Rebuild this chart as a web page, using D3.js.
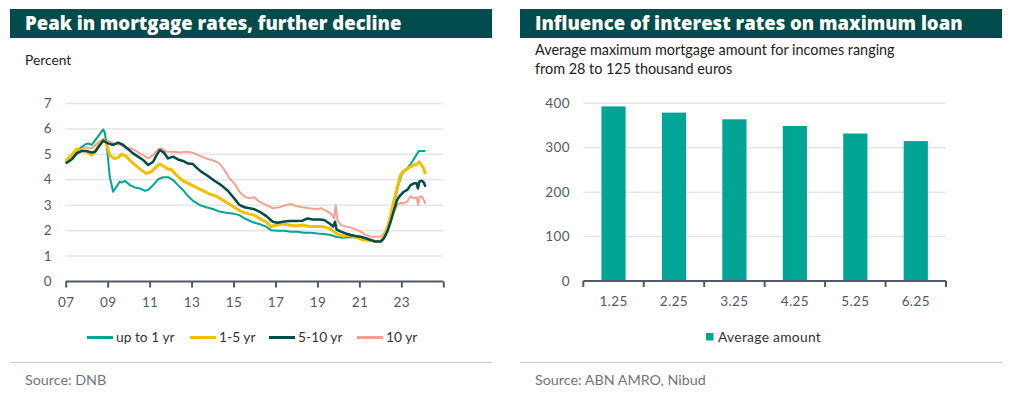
<!DOCTYPE html>
<html>
<head>
<meta charset="utf-8">
<script src="https://cdn.jsdelivr.net/npm/d3@7"></script>
<style>
  body { margin: 0; background: #fff; }
  svg { display: block; font-family: Lato, "Noto Sans", sans-serif; }
  .grid line { stroke: #e5e5e5; stroke-width: 1.5; }
  .tick-label { fill: #4e5a65; font-size: 13.5px; letter-spacing: 0.4px; }
</style>
</head>
<body>
<svg id="chart" width="1016" height="395"></svg>
<script>
// Mortgage rates by fixed-rate period, [decimal year, percent]
var upTo1yr = [
  [2007.0, 4.67], [2007.36, 4.84], [2007.68, 5.24], [2007.92, 5.39], [2008.08, 5.43],
  [2008.24, 5.37], [2008.47, 5.63], [2008.71, 5.89], [2008.79, 5.98], [2008.87, 5.83],
  [2008.98, 5.17], [2009.1, 4.12], [2009.26, 3.53], [2009.42, 3.73], [2009.58, 3.93],
  [2009.66, 3.89], [2009.82, 3.96], [2010.06, 3.79], [2010.29, 3.70], [2010.53, 3.66],
  [2010.77, 3.57], [2010.93, 3.60], [2011.17, 3.79], [2011.4, 4.02], [2011.64, 4.10],
  [2011.88, 4.10], [2012.12, 3.99], [2012.35, 3.79], [2012.59, 3.60], [2012.83, 3.36],
  [2013.07, 3.17], [2013.38, 3.01], [2013.7, 2.92], [2014.01, 2.85], [2014.33, 2.75],
  [2014.64, 2.70], [2015.04, 2.66], [2015.28, 2.61], [2015.52, 2.48], [2015.76, 2.39],
  [2016.0, 2.31], [2016.23, 2.26], [2016.55, 2.16], [2016.79, 2.02], [2017.1, 2.00],
  [2017.42, 2.00], [2017.74, 1.96], [2018.05, 1.96], [2018.37, 1.92], [2018.69, 1.92],
  [2019.0, 1.89], [2019.32, 1.87], [2019.64, 1.83], [2019.87, 1.76], [2020.19, 1.72],
  [2020.51, 1.74], [2020.82, 1.74], [2021.14, 1.66], [2021.46, 1.61], [2021.78, 1.57],
  [2022.06, 1.57], [2022.25, 1.83], [2022.41, 2.29], [2022.57, 2.81], [2022.73, 3.34],
  [2022.88, 3.86], [2023.04, 4.25], [2023.28, 4.45], [2023.52, 4.71], [2023.67, 4.91],
  [2023.83, 5.13], [2023.99, 5.13], [2024.15, 5.13]
];
var yr1to5 = [
  [2007.0, 4.75], [2007.28, 4.97], [2007.52, 5.20], [2007.76, 5.17], [2008.0, 5.10],
  [2008.24, 4.97], [2008.4, 5.10], [2008.63, 5.43], [2008.79, 5.59], [2008.92, 5.50],
  [2009.1, 4.97], [2009.3, 4.84], [2009.5, 4.87], [2009.66, 5.01], [2009.9, 4.91],
  [2010.13, 4.71], [2010.37, 4.54], [2010.61, 4.38], [2010.85, 4.25], [2011.09, 4.32],
  [2011.33, 4.52], [2011.49, 4.62], [2011.64, 4.54], [2011.88, 4.41], [2012.04, 4.41],
  [2012.27, 4.19], [2012.59, 3.96], [2012.91, 3.83], [2013.22, 3.70], [2013.54, 3.57],
  [2013.86, 3.44], [2014.17, 3.36], [2014.49, 3.20], [2014.81, 3.04], [2015.04, 2.92],
  [2015.28, 2.79], [2015.52, 2.71], [2015.76, 2.65], [2016.0, 2.61], [2016.23, 2.48],
  [2016.55, 2.35], [2016.79, 2.16], [2017.02, 2.22], [2017.34, 2.26], [2017.66, 2.22],
  [2017.97, 2.18], [2018.29, 2.22], [2018.61, 2.16], [2018.92, 2.16], [2019.24, 2.16],
  [2019.56, 2.09], [2019.8, 1.96], [2020.03, 1.83], [2020.27, 1.79], [2020.51, 1.83],
  [2020.74, 1.76], [2020.98, 1.70], [2021.22, 1.63], [2021.46, 1.61], [2021.78, 1.57],
  [2022.01, 1.57], [2022.17, 1.76], [2022.33, 2.09], [2022.49, 2.61], [2022.65, 3.20],
  [2022.81, 3.73], [2022.96, 4.19], [2023.12, 4.36], [2023.28, 4.42], [2023.44, 4.52],
  [2023.6, 4.58], [2023.75, 4.62], [2023.86, 4.71], [2023.96, 4.58], [2024.04, 4.49],
  [2024.15, 4.23]
];
var yr5to10 = [
  [2007.0, 4.64], [2007.28, 4.80], [2007.52, 5.04], [2007.76, 5.13], [2008.0, 5.13],
  [2008.24, 5.07], [2008.4, 5.10], [2008.63, 5.37], [2008.79, 5.54], [2009.02, 5.43],
  [2009.26, 5.37], [2009.5, 5.46], [2009.74, 5.37], [2009.98, 5.20], [2010.21, 5.04],
  [2010.45, 4.91], [2010.69, 4.78], [2010.93, 4.58], [2011.17, 4.71], [2011.33, 4.97],
  [2011.49, 5.17], [2011.68, 5.07], [2011.88, 4.84], [2012.12, 4.91], [2012.35, 4.80],
  [2012.59, 4.74], [2012.83, 4.64], [2013.07, 4.62], [2013.22, 4.49], [2013.46, 4.32],
  [2013.78, 4.15], [2014.09, 3.96], [2014.41, 3.79], [2014.73, 3.57], [2014.95, 3.35],
  [2015.1, 3.20], [2015.28, 3.01], [2015.52, 2.92], [2015.76, 2.88], [2016.0, 2.84],
  [2016.23, 2.75], [2016.55, 2.58], [2016.87, 2.35], [2017.1, 2.31], [2017.34, 2.35],
  [2017.66, 2.38], [2017.97, 2.38], [2018.29, 2.39], [2018.53, 2.48], [2018.77, 2.44],
  [2019.08, 2.44], [2019.32, 2.42], [2019.56, 2.29], [2019.75, 2.16], [2019.84, 2.35],
  [2019.91, 2.05], [2020.11, 1.96], [2020.35, 1.89], [2020.59, 1.83], [2020.82, 1.79],
  [2021.06, 1.76], [2021.3, 1.70], [2021.54, 1.63], [2021.78, 1.57], [2022.01, 1.57],
  [2022.17, 1.70], [2022.33, 1.96], [2022.49, 2.35], [2022.65, 2.81], [2022.81, 3.23],
  [2022.96, 3.40], [2023.12, 3.53], [2023.28, 3.60], [2023.44, 3.79], [2023.6, 3.86],
  [2023.73, 3.86], [2023.79, 3.66], [2023.86, 3.93], [2023.99, 3.96], [2024.07, 3.89],
  [2024.15, 3.73]
];
var yr10 = [
  [2007.0, 4.71], [2007.28, 4.91], [2007.52, 5.17], [2007.76, 5.27], [2008.0, 5.27],
  [2008.24, 5.24], [2008.47, 5.41], [2008.71, 5.56], [2008.87, 5.59], [2009.1, 5.50],
  [2009.34, 5.41], [2009.58, 5.39], [2009.82, 5.27], [2010.06, 5.24], [2010.29, 5.17],
  [2010.53, 5.04], [2010.77, 4.93], [2010.93, 4.84], [2011.17, 4.97], [2011.4, 5.20],
  [2011.56, 5.24], [2011.8, 5.10], [2012.12, 5.10], [2012.43, 5.07], [2012.75, 5.10],
  [2012.99, 5.07], [2013.22, 5.01], [2013.46, 4.91], [2013.7, 4.84], [2013.94, 4.78],
  [2014.17, 4.71], [2014.33, 4.64], [2014.57, 4.38], [2014.81, 4.05], [2015.04, 3.86],
  [2015.28, 3.53], [2015.52, 3.34], [2015.76, 3.27], [2016.0, 3.31], [2016.23, 3.14],
  [2016.55, 3.01], [2016.87, 2.88], [2017.18, 2.92], [2017.5, 3.01], [2017.74, 3.05],
  [2017.97, 2.97], [2018.29, 2.92], [2018.61, 2.88], [2018.92, 2.84], [2019.16, 2.88],
  [2019.4, 2.79], [2019.64, 2.68], [2019.8, 2.48], [2019.87, 3.01], [2019.95, 2.42],
  [2020.11, 2.22], [2020.35, 2.16], [2020.59, 2.12], [2020.82, 2.05], [2021.06, 1.96],
  [2021.3, 1.83], [2021.54, 1.76], [2021.78, 1.76], [2022.01, 1.76], [2022.17, 1.89],
  [2022.33, 2.16], [2022.49, 2.48], [2022.65, 2.75], [2022.81, 3.01], [2022.96, 3.10],
  [2023.12, 3.07], [2023.28, 3.14], [2023.44, 3.36], [2023.6, 3.27], [2023.73, 3.31],
  [2023.8, 3.01], [2023.88, 3.34], [2023.99, 3.34], [2024.07, 3.20], [2024.15, 3.05]
];
var seriesNames = ['up to 1 yr', '1-5 yr', '5-10 yr', '10 yr'];
var seriesColors = ['#00a596', '#f3c000', '#004c4c', '#f4a390'];
var seriesWidths = [2, 3, 2.5, 2];
var rateTicks = [0, 1, 2, 3, 4, 5, 6, 7];
var yearTicks = [2007, 2009, 2011, 2013, 2015, 2017, 2019, 2021, 2023];
var yearLabels = ['07', '09', '11', '13', '15', '17', '19', '21', '23'];

// Average maximum mortgage (thousand euros) by interest rate
var interestRates = ['1.25', '2.25', '3.25', '4.25', '5.25', '6.25'];
var avgAmount = [393, 379, 364, 349, 332, 315];
var amountTicks = [0, 100, 200, 300, 400];

var svg = d3.select('#chart');
var darkGreen = '#004c4c';
var axisColor = '#4e5a65';

/**
 * Draws a panel title bar.
 */
function drawHeader(x0, x1, title) {
  svg.append('rect')
    .attr('x', x0).attr('y', 9)
    .attr('width', x1 - x0).attr('height', 29)
    .attr('fill', darkGreen);
  svg.append('text')
    .attr('x', x0 + 15).attr('y', 30)
    .attr('fill', '#fff')
    .attr('font-family', '"Open Sans", sans-serif')
    .attr('font-size', 18.5)
    .attr('font-weight', 800)
    .text(title);
}

/**
 * Draws the footer separator and source note.
 */
function drawFooter(x0, x1, source) {
  svg.append('line')
    .attr('x1', x0).attr('x2', x1)
    .attr('y1', 362.5).attr('y2', 362.5)
    .attr('stroke', '#c8c8c8').attr('stroke-width', 1);
  svg.append('text')
    .attr('x', x0 + 15).attr('y', 385)
    .attr('fill', '#6b7680')
    .attr('font-size', 14.3)
    .text(source);
}

// ---------- left panel: line chart ----------
drawHeader(10, 492, 'Peak in mortgage rates, further decline');
svg.append('text')
  .attr('x', 25).attr('y', 65)
  .attr('fill', '#222').attr('font-size', 13.8)
  .text('Percent');

var x = d3.scaleLinear().domain([2007, 2025]).range([65.7, 443.3]);
var y = d3.scaleLinear().domain([0, 7]).range([281.5, 103.5]);

var leftGrid = svg.append('g').attr('class', 'grid');
leftGrid.selectAll('line')
  .data(rateTicks.filter(function(d) { return d > 0; }))
  .enter().append('line')
  .attr('x1', x.range()[0]).attr('x2', x.range()[1])
  .attr('y1', y).attr('y2', y);
svg.append('g').selectAll('text')
  .data(rateTicks)
  .enter().append('text')
  .attr('class', 'tick-label')
  .attr('x', 52).attr('y', function(d) { return y(d) + 4.5; })
  .attr('text-anchor', 'end')
  .text(function(d) { return d; });

var line = d3.line()
  .x(function(d) { return x(d[0]); })
  .y(function(d) { return y(d[1]); })
  .curve(d3.curveLinear);
var allSeries = [upTo1yr, yr1to5, yr5to10, yr10];
// draw back to front so the salmon line sits under the others, as in the source
[3, 0, 1, 2].forEach(function(i) {
  svg.append('path')
    .datum(allSeries[i])
    .attr('d', line)
    .attr('fill', 'none')
    .attr('stroke', seriesColors[i])
    .attr('stroke-width', seriesWidths[i])
    .attr('stroke-linejoin', 'round');
});

var xAxis = d3.axisBottom(x)
  .tickValues(yearTicks.concat([2025]))
  .tickSize(6)
  .tickFormat(function(d) {
    var i = yearTicks.indexOf(d);
    return i < 0 ? '' : yearLabels[i];
  });
var xAxisG = svg.append('g')
  .attr('transform', 'translate(0,281.5)')
  .call(xAxis);
xAxisG.select('.domain').attr('stroke', axisColor).attr('stroke-width', 2)
  .attr('d', 'M' + x.range()[0] + ',0H' + x.range()[1]);
xAxisG.selectAll('.tick line').attr('stroke', axisColor).attr('stroke-width', 2);
xAxisG.selectAll('.tick text')
  .attr('class', 'tick-label').attr('dy', null).attr('y', 25)
  .style('font-family', null).style('font-size', null);
xAxisG.attr('font-family', null).attr('font-size', null);

var legendX = [87, 190, 269, 357];
var legend = svg.append('g');
seriesNames.forEach(function(name, i) {
  legend.append('line')
    .attr('x1', legendX[i]).attr('x2', legendX[i] + 26)
    .attr('y1', 337.5).attr('y2', 337.5)
    .attr('stroke', seriesColors[i]).attr('stroke-width', 3);
  legend.append('text')
    .attr('x', legendX[i] + 29).attr('y', 342)
    .attr('fill', '#333').attr('font-size', 13.8)
    .text(name);
});

drawFooter(10, 492, 'Source: DNB');

// ---------- right panel: bar chart ----------
drawHeader(520, 1002, 'Influence of interest rates on maximum loan');
svg.append('text')
  .attr('x', 535).attr('y', 55)
  .attr('fill', '#222').attr('font-size', 14.4)
  .text('Average maximum mortgage amount for incomes ranging');
svg.append('text')
  .attr('x', 535).attr('y', 74)
  .attr('fill', '#222').attr('font-size', 14.4)
  .text('from 28 to 125 thousand euros');

var xb = d3.scaleBand().domain(interestRates).range([583.3, 946]).padding(0);
var yb = d3.scaleLinear().domain([0, 400]).range([281, 103.3]);

var rightGrid = svg.append('g').attr('class', 'grid');
rightGrid.selectAll('line')
  .data(amountTicks.filter(function(d) { return d > 0; }))
  .enter().append('line')
  .attr('x1', xb.range()[0]).attr('x2', xb.range()[1])
  .attr('y1', yb).attr('y2', yb);
svg.append('g').selectAll('text')
  .data(amountTicks)
  .enter().append('text')
  .attr('class', 'tick-label')
  .attr('x', 570).attr('y', function(d) { return yb(d) + 4.5; })
  .attr('text-anchor', 'end')
  .text(function(d) { return d; });

var barW = xb.bandwidth() * 0.4;
svg.append('g').selectAll('rect')
  .data(avgAmount)
  .enter().append('rect')
  .attr('x', function(d, i) {
    return xb(interestRates[i]) + (xb.bandwidth() - barW) / 2;
  })
  .attr('y', function(d) { return yb(d); })
  .attr('width', barW)
  .attr('height', function(d) { return yb(0) - yb(d); })
  .attr('fill', '#00a596');

var bAxis = svg.append('g').attr('transform', 'translate(0,281)');
bAxis.append('line')
  .attr('x1', xb.range()[0]).attr('x2', xb.range()[1])
  .attr('stroke', axisColor).attr('stroke-width', 2);
bAxis.selectAll('line.tk')
  .data(interestRates.map(function(d) { return xb(d); }).concat([xb.range()[1]]))
  .enter().append('line')
  .attr('class', 'tk')
  .attr('x1', function(d) { return d; }).attr('x2', function(d) { return d; })
  .attr('y1', 0).attr('y2', 6)
  .attr('stroke', axisColor).attr('stroke-width', 2);
bAxis.selectAll('text')
  .data(interestRates)
  .enter().append('text')
  .attr('class', 'tick-label')
  .attr('x', function(d) { return xb(d) + xb.bandwidth() / 2; })
  .attr('y', 25)
  .attr('text-anchor', 'middle')
  .text(function(d) { return d; });

svg.append('rect')
  .attr('x', 706).attr('y', 333)
  .attr('width', 7.5).attr('height', 7.5)
  .attr('fill', '#00a596');
svg.append('text')
  .attr('x', 718).attr('y', 342)
  .attr('fill', '#333').attr('font-size', 13.8)
  .style('letter-spacing', '0.3px')
  .text('Average amount');

drawFooter(520, 1002, 'Source: ABN AMRO, Nibud');
</script>
</body>
</html>
